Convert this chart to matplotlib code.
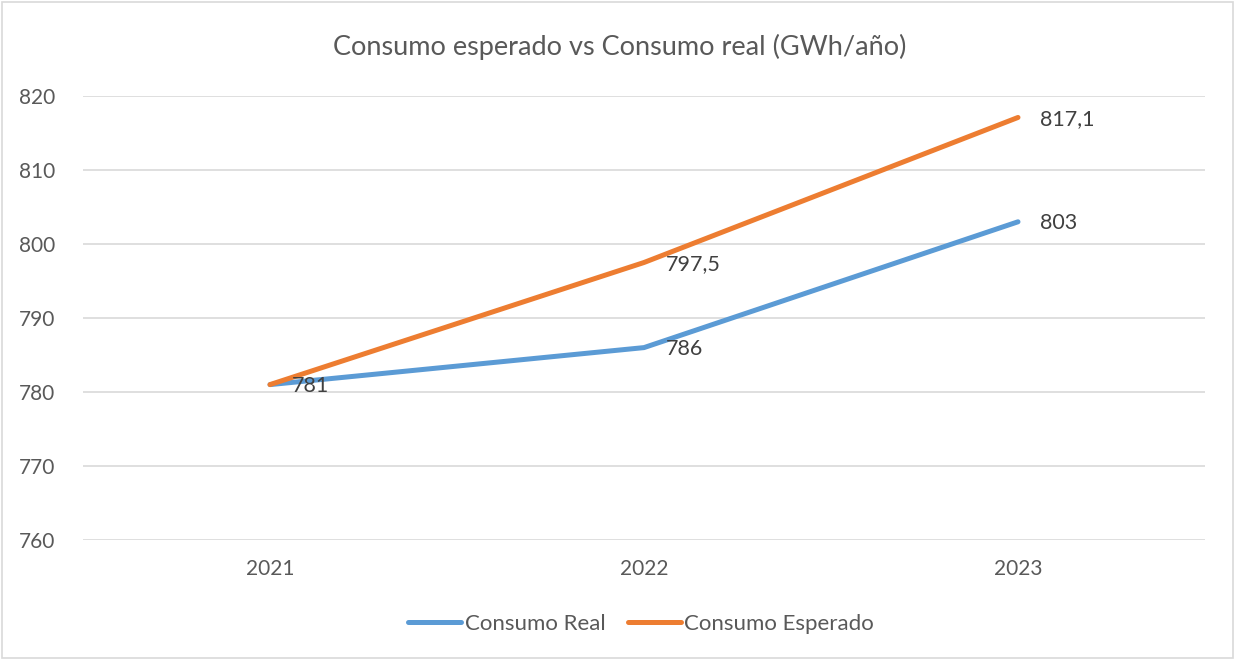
import matplotlib.pyplot as plt
from matplotlib.patches import Rectangle

years = ['2021', '2022', '2023']
consumo_real = [781, 786, 803]
consumo_esperado = [781, 797.5, 817.1]
y_ticks = [760, 770, 780, 790, 800, 810, 820]

plt.rcParams['font.family'] = ['Lato', 'DejaVu Sans']

fig = plt.figure(figsize=(12.37, 6.6), dpi=100)
ax = fig.add_axes([83 / 1237, 1 - 540 / 660, (1205 - 83) / 1237, (540 - 96) / 660])

x = list(range(len(years)))
ax.plot(x, consumo_real, color='#5B9BD5', lw=3.6, solid_capstyle='round',
        solid_joinstyle='round', label='Consumo Real', zorder=3)
ax.plot(x, consumo_esperado, color='#ED7D31', lw=3.6, solid_capstyle='round',
        solid_joinstyle='round', label='Consumo Esperado', zorder=4)

def fmt(v):
    s = f'{v:g}'
    return s.replace('.', ',')

for xi, v in zip(x, consumo_real):
    ax.annotate(fmt(v), (xi, v), xytext=(16, -1), textcoords='offset points',
                va='center', ha='left', fontsize=15.5, color='#404040', zorder=5)
for xi, v in zip(x[1:], consumo_esperado[1:]):
    ax.annotate(fmt(v), (xi, v), xytext=(16, -1), textcoords='offset points',
                va='center', ha='left', fontsize=15.5, color='#404040', zorder=5)

ax.set_xlim(-0.5, 2.5)
ax.set_ylim(760, 820)
ax.set_yticks(y_ticks)
ax.set_xticks(x)
ax.set_xticklabels(years)
ax.tick_params(axis='both', length=0, labelsize=15, colors='#595959')
ax.tick_params(axis='y', pad=20)
ax.tick_params(axis='x', pad=14)
ax.grid(axis='y', color='#D9D9D9', lw=1.2)
ax.set_axisbelow(True)
for s in ax.spines.values():
    s.set_visible(False)

fig.text(620 / 1237, 1 - 47 / 660, 'Consumo esperado vs Consumo real (GWh/año)',
         ha='center', va='center', fontsize=19.5, color='#595959')

fig.legend(loc='center', bbox_to_anchor=(641 / 1237, 1 - 624 / 660), ncol=2,
           frameon=False, fontsize=16, labelcolor='#595959', handlelength=2.4,
           handletextpad=0.15, columnspacing=1.0)

fig.patches.append(Rectangle((0.002, 0.003), 0.995, 0.994, transform=fig.transFigure,
                             fill=False, edgecolor='#D9D9D9', lw=1.2))

fig.savefig('out.png', dpi=100, facecolor='white')
